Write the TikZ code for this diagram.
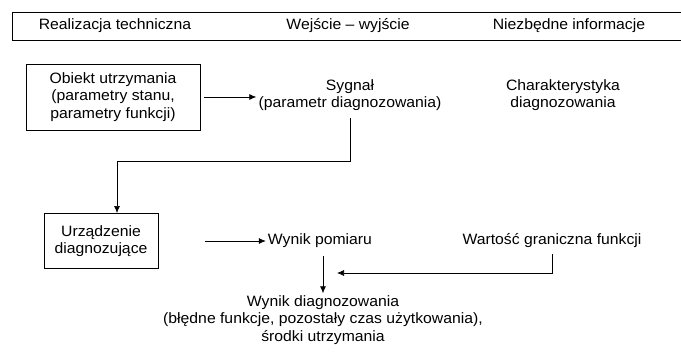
\documentclass[tikz,border=0pt]{standalone}
\usepackage{fontspec}
\setmainfont[FakeStretch=1.05]{Liberation Sans}
\usetikzlibrary{arrows.meta}
\tikzset{%
labl/.style={align=center,inner sep=2pt,font=\fontsize{15}{17.5}\selectfont},
box/.style={labl,draw,line width=0.9pt},
arr/.style={-{Latex[length=7pt,width=6pt]},line width=0.7pt},
}

\begin{document}
\begin{tikzpicture}[x=1pt,y=-1pt]
  \useasboundingbox (0,0) rectangle (681,352);
  % header
  \draw[line width=0.9pt] (681,12) -- (12,12) -- (12,40) -- (681,40);
  \node[labl] (col1) at (115,26) {Realizacja techniczna};
  \node[labl] (col2) at (348,26) {Wejście -- wyjście};
  \node[labl] (col3) at (569,26) {Niezbędne informacje};
  % upper row
  \node[box,minimum width=174pt,minimum height=66pt] (obiekt) at (113,97)
       {Obiekt utrzymania\\(parametry stanu,\\parametry funkcji)};
  \node[labl] (sygnal) at (350,95) {Sygnał\\(parametr diagnozowania)};
  \node[labl] (charakt) at (563,95) {Charakterystyka\\diagnozowania};
  % lower row
  \node[box,minimum width=114pt,minimum height=55pt] (urzadzenie) at (101,241)
       {Urządzenie\\diagnozujące};
  \node[labl] (pomiar) at (320,241) {Wynik pomiaru};
  \node[labl] (wartosc) at (552,241) {Wartość graniczna funkcji};
  \node[labl] (diagnoza) at (323,320)
       {Wynik diagnozowania\\(błędne funkcje, pozostały czas użytkowania),\\środki utrzymania};
  \coordinate (bend) at (117,161);
  \coordinate (join) at (337,273);
 \draw[arr,shorten <=4pt](obiekt.east)--(obiekt.east -| sygnal.west);
 \draw[arr,shorten <=5pt](sygnal.south)|-(bend)--(bend |- urzadzenie.north);
 \draw[arr,shorten <=47pt](urzadzenie.east)--(urzadzenie.east -| pomiar.west);
 \draw[arr,shorten <=6pt](diagnoza.north |- pomiar.south)--(diagnoza.north);
 \draw[arr,shorten <=4pt](wartosc.south)|-(join);
\end{tikzpicture}
\end{document}
